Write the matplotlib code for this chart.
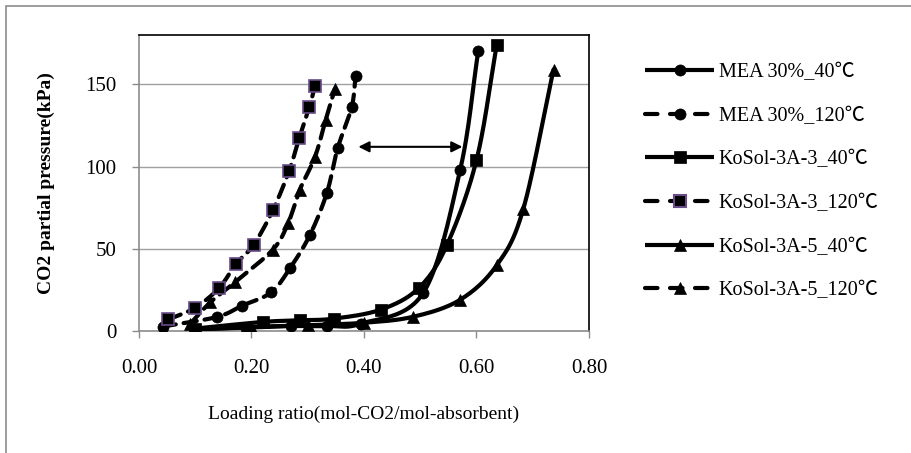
import numpy as np
import matplotlib
matplotlib.use("Agg")
import matplotlib.pyplot as plt
from matplotlib.patches import Rectangle
from matplotlib.lines import Line2D

plt.rcParams['font.family'] = ['Liberation Serif', 'Noto Sans CJK SC', 'DejaVu Sans']

# ---------------- data ----------------
labels = ["MEA 30%_40℃", "MEA 30%_120℃", "KoSol-3A-3_40℃",
          "KoSol-3A-3_120℃", "KoSol-3A-5_40℃", "KoSol-3A-5_120℃"]

mea40_x = [0.10, 0.19, 0.27, 0.335, 0.395, 0.505, 0.571, 0.603]
mea40_y = [1.0, 2.0, 3.0, 3.0, 4.5, 23.0, 98.0, 170.0]

mea120_x = [0.042, 0.138, 0.184, 0.235, 0.269, 0.304, 0.334, 0.353, 0.378, 0.385]
mea120_y = [2.7, 8.5, 15.5, 23.5, 38.5, 58.5, 84.0, 111.0, 136.0, 155.0]

k3_40_x = [0.10, 0.22, 0.286, 0.346, 0.43, 0.497, 0.547, 0.60, 0.636]
k3_40_y = [1.5, 5.5, 6.5, 7.5, 13.0, 26.0, 52.0, 104.0, 174.0]

k3_120_x = [0.052, 0.099, 0.142, 0.173, 0.204, 0.238, 0.267, 0.285, 0.303, 0.313]
k3_120_y = [7.0, 14.0, 26.0, 41.0, 52.5, 73.5, 97.5, 117.5, 136.5, 149.0]

k5_40_x = [0.10, 0.20, 0.30, 0.40, 0.488, 0.571, 0.636, 0.683, 0.737]
k5_40_y = [1.0, 2.5, 3.5, 5.0, 8.7, 19.0, 40.0, 74.0, 159.0]

k5_120_x = [0.09, 0.127, 0.170, 0.238, 0.265, 0.286, 0.313, 0.332, 0.348]
k5_120_y = [4.0, 17.5, 29.5, 49.5, 65.5, 86.0, 106.0, 128.5, 147.0]

xticks = [0.0, 0.2, 0.4, 0.6, 0.8]
yticks = [0, 50, 100, 150]

arrow_y = 112
arrow_x0, arrow_x1 = 0.39, 0.575

# ---------------- helpers ----------------
def smooth(xs, ys, n=24):
    """Catmull-Rom smoothing (like Excel's smoothed line)."""
    p = np.column_stack([xs, ys]).astype(float)
    p = np.vstack([p[0] - (p[1] - p[0]), p, p[-1] + (p[-1] - p[-2])])
    out = []
    t = np.linspace(0, 1, n, endpoint=False)[:, None]
    for i in range(1, len(p) - 2):
        p0, p1, p2, p3 = p[i - 1], p[i], p[i + 1], p[i + 2]
        seg = 0.5 * ((2 * p1) + (-p0 + p2) * t + (2 * p0 - 5 * p1 + 4 * p2 - p3) * t ** 2
                     + (-p0 + 3 * p1 - 3 * p2 + p3) * t ** 3)
        out.append(seg)
    out.append(p[-2][None, :])
    out = np.vstack(out)
    return out[:, 0], out[:, 1]

fig = plt.figure(figsize=(9.12, 4.53), dpi=100)
ax = fig.add_axes([139 / 912, 1 - 331 / 453, 450 / 912, 296 / 453])

purple = '#6a4c8a'
LW = 3.0
MS = 8
dash = (0, (3.2, 1.9))

series = [
    (mea40_x, mea40_y, '-', 'o', 'black'),
    (mea120_x, mea120_y, dash, 'o', 'black'),
    (k3_40_x, k3_40_y, '-', 's', 'black'),
    (k3_120_x, k3_120_y, dash, 's', purple),
    (k5_40_x, k5_40_y, '-', '^', 'black'),
    (k5_120_x, k5_120_y, dash, '^', 'black'),
]

handles = []
for (xs, ys, ls, mk, mec), lab in zip(series, labels):
    sx, sy = smooth(xs, ys)
    ax.plot(sx, sy, color='black', lw=LW, ls=ls, zorder=3, solid_capstyle='round',
            dash_capstyle='round')
    ax.plot(xs, ys, ls='none', marker=mk, ms=MS, mfc='black', mec=mec,
            mew=1.2 if mec != 'black' else 0.5, zorder=4)
    handles.append(Line2D([], [], color='black', lw=LW,
                          ls=(0, (3.0, 3.0)) if ls != '-' else '-',
                          marker=mk, ms=MS,
                          mfc='black', mec=mec, mew=1.5 if mec != 'black' else 0.5,
                          dash_capstyle='round', solid_capstyle='butt'))

ax.annotate('', xy=(arrow_x0, arrow_y), xytext=(arrow_x1, arrow_y),
            arrowprops=dict(arrowstyle='<|-|>', color='black', lw=1.5,
                            mutation_scale=16, shrinkA=0, shrinkB=0), zorder=5)

ax.set_xlim(0, 0.8)
ax.set_ylim(0, 180)
ax.set_xticks(xticks)
ax.set_xticklabels([f"{v:.2f}" for v in xticks])
ax.set_yticks(yticks)
ax.set_yticklabels([str(v) for v in yticks])
ax.yaxis.grid(True, color='#a0a0a0', lw=1.0)
ax.set_axisbelow(True)

for s in ['top', 'right']:
    ax.spines[s].set_color('black')
    ax.spines[s].set_linewidth(1.2)
for s in ['left', 'bottom']:
    ax.spines[s].set_color('#8c8c8c')
    ax.spines[s].set_linewidth(1.2)

ax.tick_params(axis='both', direction='out', color='#8c8c8c', length=5, width=1.0,
               labelsize=15)
ax.tick_params(axis='y', pad=11)
ax.tick_params(axis='x', pad=15)

ax.set_xlabel("Loading ratio(mol-CO2/mol-absorbent)", fontsize=14, labelpad=20)
ax.set_ylabel("CO2 partial pressure(kPa)", fontsize=14, fontweight='bold', labelpad=22)

leg = ax.legend(handles, labels, loc='upper left', bbox_to_anchor=(645 / 912, 1 - 63 / 453),
                bbox_transform=fig.transFigure, frameon=False, fontsize=14.5,
                handlelength=3.45, handletextpad=0.2, labelspacing=1.22,
                borderpad=0, borderaxespad=0, numpoints=1)

# outer chart frame (right/bottom edges fall outside the picture)
fig.add_artist(Rectangle((6 / 912, -0.1), 1.2, 1 - 6 / 453 + 0.1, transform=fig.transFigure,
                         fill=False, edgecolor='#8c8c8c', lw=1.2))

fig.savefig("out.png", dpi=100)
